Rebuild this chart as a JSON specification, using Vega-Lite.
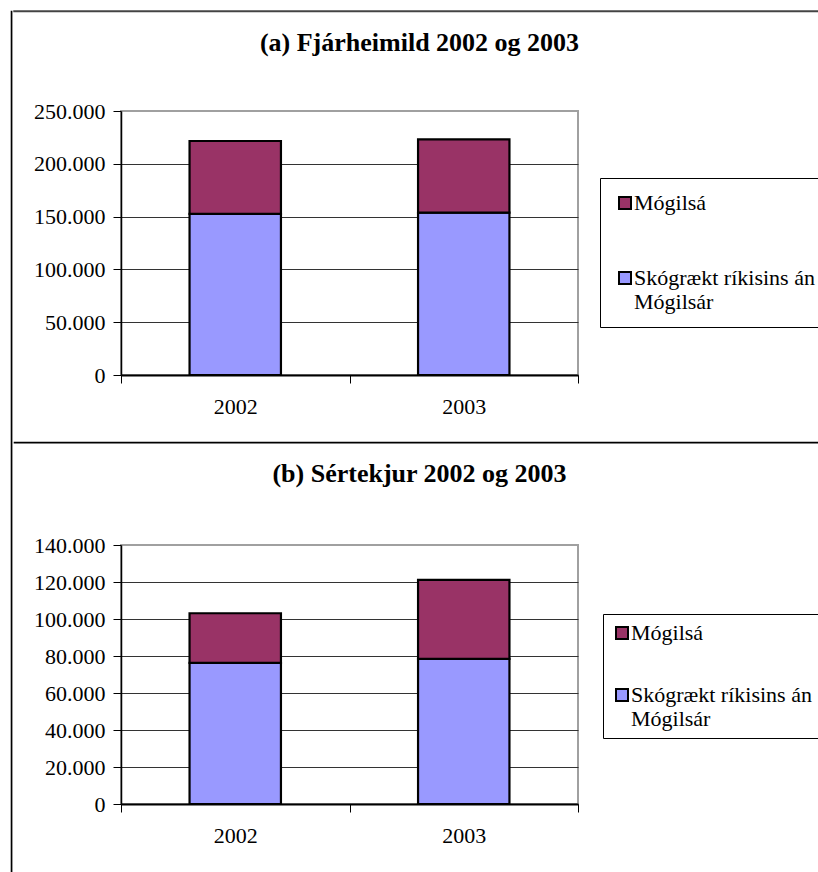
{
  "$schema": "https://vega.github.io/schema/vega-lite/v6.json",
  "padding": {"left": 10, "top": 10, "right": 0, "bottom": 0},
  "background": "white",
  "config": {
    "font": "Liberation Serif",
    "title": {"font": "Liberation Serif", "fontSize": 26, "fontWeight": "bold", "color": "black", "anchor": "middle"},
    "axis": {"labelFont": "Liberation Serif", "labelFontSize": 22, "labelColor": "black", "tickColor": "black", "tickSize": 8, "domainColor": "black"},
    "legend": {"labelFont": "Liberation Serif", "labelFontSize": 22, "labelColor": "black"}
  },
  "datasets": {
    "fjarheimild": [
      {"year": "2002", "series": "Skógrækt ríkisins án Mógilsár", "value": 152500},
      {"year": "2002", "series": "Mógilsá", "value": 69100},
      {"year": "2003", "series": "Skógrækt ríkisins án Mógilsár", "value": 153700},
      {"year": "2003", "series": "Mógilsá", "value": 69500}
    ],
    "sertekjur": [
      {"year": "2002", "series": "Skógrækt ríkisins án Mógilsár", "value": 76300},
      {"year": "2002", "series": "Mógilsá", "value": 26800},
      {"year": "2003", "series": "Skógrækt ríkisins án Mógilsár", "value": 78400},
      {"year": "2003", "series": "Mógilsá", "value": 42800}
    ],
    "empty": []
  },
  "spacing": 0,
  "resolve": {"scale": {"color": "independent", "y": "independent"}, "legend": {"color": "independent"}},
  "hconcat": [
    {
      "width": 0.5, "height": 862,
      "view": {"stroke": "black", "strokeWidth": 1.2},
      "data": {"name": "empty"},
      "mark": {"type": "point", "opacity": 0},
      "encoding": {}
    },
    {
      "spacing": 16,
      "resolve": {"scale": {"color": "independent", "y": "independent"}, "legend": {"color": "independent"}},
      "vconcat": [
        {
          "width": 808, "height": 0.5,
          "view": {"stroke": "#444", "strokeWidth": 1.5},
          "data": {"name": "empty"},
          "mark": {"type": "point", "opacity": 0},
          "encoding": {}
        },
        {
          "spacing": 0,
          "resolve": {"scale": {"color": "independent", "y": "independent"}, "legend": {"color": "independent"}},
          "hconcat": [
            {
              "width": 0.5, "height": 1,
              "view": {"stroke": null},
              "data": {"name": "empty"},
              "mark": {"type": "point", "opacity": 0},
              "encoding": {}
            },
            {
              "width": 457, "height": 264,
              "view": {"stroke": "#a0a0a0", "strokeWidth": 2},
              "title": {"text": "(a) Fjárheimild 2002 og 2003", "dx": 70, "offset": 44},
              "data": {"name": "fjarheimild"},
              "mark": {"type": "bar", "stroke": "black", "strokeWidth": 2.2, "width": {"band": 0.4}},
              "encoding": {
                "x": {"field": "year", "type": "nominal", "scale": {"paddingInner": 0, "paddingOuter": 0},
                      "axis": {"title": " ", "titleFontSize": 7, "titlePadding": 0, "labelAngle": 0, "tickBand": "extent", "labelPadding": 13, "domainWidth": 2, "grid": false}},
                "y": {"field": "value", "type": "quantitative", "stack": "zero", "scale": {"domain": [0, 250000], "nice": false},
                      "axis": {"title": " ", "titleFontSize": 10, "titlePadding": 7, "values": [0, 50000, 100000, 150000, 200000, 250000],
                               "labelExpr": "replace(format(datum.value, ','), ',', '.')", "labelPadding": 8,
                               "grid": true, "gridColor": {"condition": {"test": "datum.value == 250000", "value": "#a0a0a0"}, "value": "#333"}, "gridWidth": 1, "domainWidth": 1.5}},
                "color": {"field": "series", "type": "nominal",
                          "scale": {"domain": ["Mógilsá", "Skógrækt ríkisins án Mógilsár"], "range": ["#993366", "#9999FF"]},
                          "legend": {"title": null, "orient": "none", "legendX": 479, "legendY": 67,
                                     "symbolType": "square", "symbolSize": 144, "symbolStrokeColor": "black", "symbolStrokeWidth": 2,
                                     "strokeColor": "black", "fillColor": "white", "padding": 14, "rowPadding": 53, "labelOffset": -2, "labelLimit": 400,
                                     "labelExpr": "datum.label == 'Skógrækt ríkisins án Mógilsár' ? ['Skógrækt ríkisins án', 'Mógilsár'] : datum.label"}},
                "order": {"field": "series", "sort": "descending"}
              }
            }
          ]
        },
        {
          "width": 808, "height": 0.5,
          "view": {"stroke": "black", "strokeWidth": 1.2},
          "data": {"name": "empty"},
          "mark": {"type": "point", "opacity": 0},
          "encoding": {}
        },
        {
          "spacing": 0,
          "resolve": {"scale": {"color": "independent", "y": "independent"}, "legend": {"color": "independent"}},
          "hconcat": [
            {
              "width": 0.5, "height": 1,
              "view": {"stroke": null},
              "data": {"name": "empty"},
              "mark": {"type": "point", "opacity": 0},
              "encoding": {}
            },
            {
              "width": 457, "height": 259,
              "view": {"stroke": "#a0a0a0", "strokeWidth": 2},
              "title": {"text": "(b) Sértekjur 2002 og 2003", "dx": 70, "offset": 47},
              "data": {"name": "sertekjur"},
              "mark": {"type": "bar", "stroke": "black", "strokeWidth": 2.2, "width": {"band": 0.4}},
              "encoding": {
                "x": {"field": "year", "type": "nominal", "scale": {"paddingInner": 0, "paddingOuter": 0},
                      "axis": {"title": null, "labelAngle": 0, "tickBand": "extent", "labelPadding": 13, "domainWidth": 2, "grid": false}},
                "y": {"field": "value", "type": "quantitative", "stack": "zero", "scale": {"domain": [0, 140000], "nice": false},
                      "axis": {"title": " ", "titleFontSize": 10, "titlePadding": 7, "values": [0, 20000, 40000, 60000, 80000, 100000, 120000, 140000],
                               "labelExpr": "replace(format(datum.value, ','), ',', '.')", "labelPadding": 8,
                               "grid": true, "gridColor": {"condition": {"test": "datum.value == 140000", "value": "#a0a0a0"}, "value": "#333"}, "gridWidth": 1, "domainWidth": 1.5}},
                "color": {"field": "series", "type": "nominal",
                          "scale": {"domain": ["Mógilsá", "Skógrækt ríkisins án Mógilsár"], "range": ["#993366", "#9999FF"]},
                          "legend": {"title": null, "orient": "none", "legendX": 482, "legendY": 69,
                                     "symbolType": "square", "symbolSize": 144, "symbolStrokeColor": "black", "symbolStrokeWidth": 2,
                                     "strokeColor": "black", "fillColor": "white", "padding": 8, "rowPadding": 40, "labelOffset": -2, "labelLimit": 400,
                                     "labelExpr": "datum.label == 'Skógrækt ríkisins án Mógilsár' ? ['Skógrækt ríkisins án', 'Mógilsár'] : datum.label"}},
                "order": {"field": "series", "sort": "descending"}
              }
            }
          ]
        }
      ]
    }
  ]
}
